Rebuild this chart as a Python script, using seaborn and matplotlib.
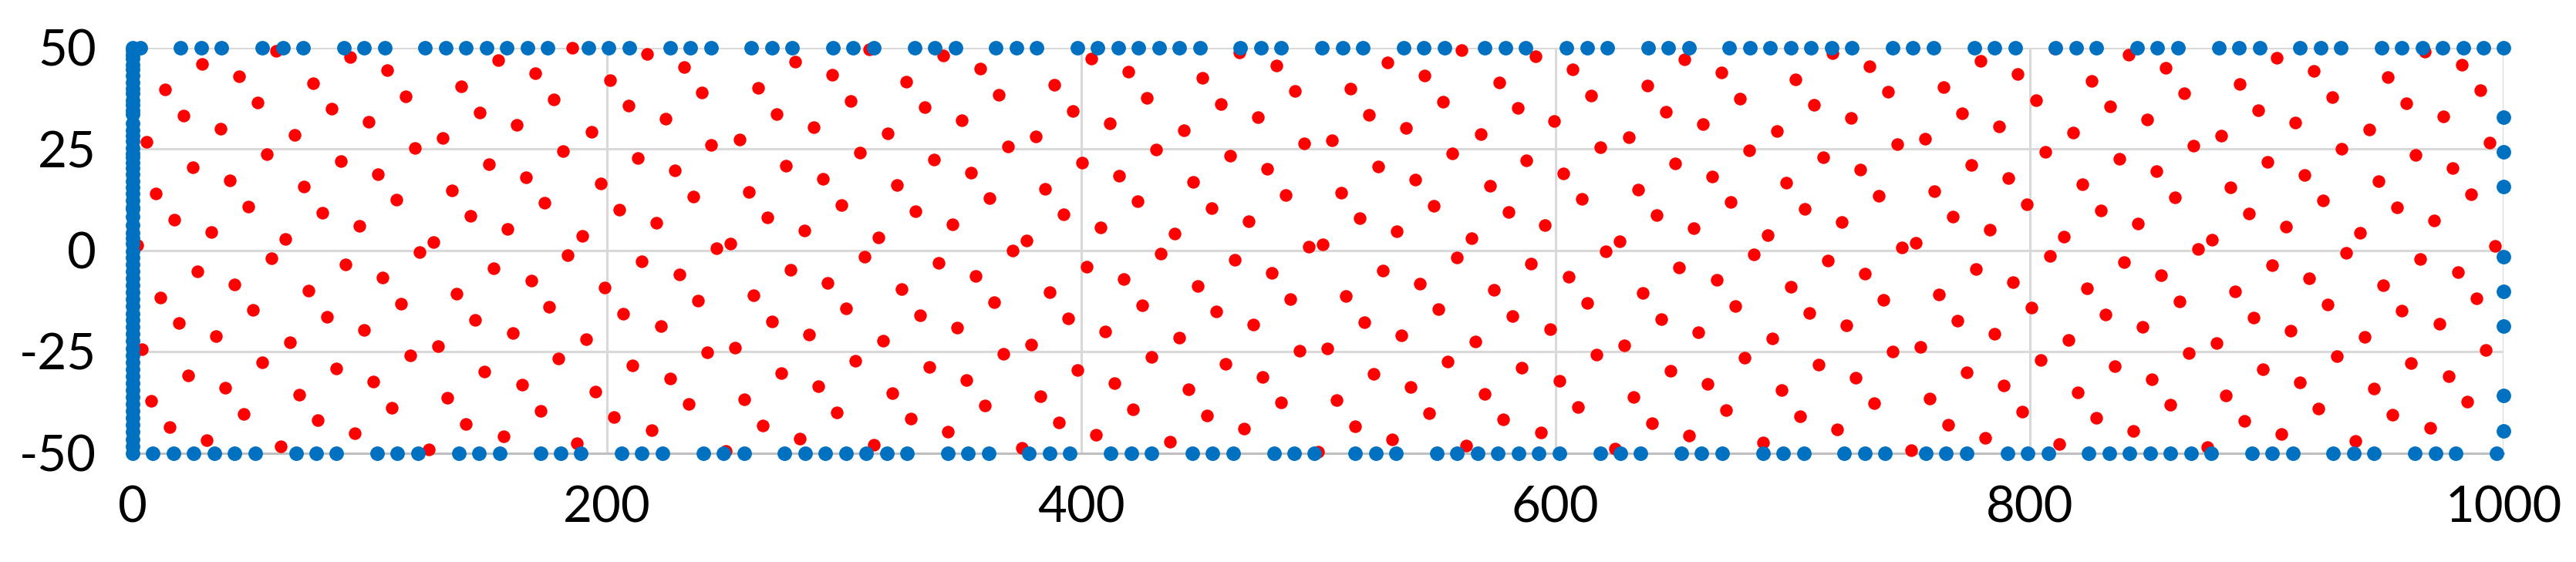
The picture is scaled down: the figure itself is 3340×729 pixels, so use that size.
import matplotlib
matplotlib.use("Agg")
import matplotlib.pyplot as plt
import seaborn as sns

# red series: x, y (points above 50 are not shown)
red_x = [
    0.0, 2.0, 3.9, 5.9, 7.8, 9.8, 11.7, 13.7, 15.6, 17.6, 19.5, 21.5, 23.4, 25.4, 27.3, 29.3,
    31.3, 33.2, 35.2, 37.1, 39.1, 41.0, 43.0, 44.9, 46.9, 48.8, 50.8, 52.7, 54.7, 56.6, 58.6, 60.5,
    62.5, 64.5, 66.4, 68.4, 70.3, 72.3, 74.2, 76.2, 78.1, 80.1, 82.0, 84.0, 85.9, 87.9, 89.8, 91.8,
    93.8, 95.7, 97.7, 99.6, 101.6, 103.5, 105.5, 107.4, 109.4, 111.3, 113.3, 115.2, 117.2, 119.1, 121.1,
    125.0, 127.0, 128.9, 130.9, 132.8, 134.8, 136.7, 138.7, 140.6, 142.6, 144.5, 146.5, 148.4, 150.4, 152.3, 154.3,
    156.3, 158.2, 160.2, 162.1, 164.1, 166.0, 168.0, 169.9, 171.9, 173.8, 175.8, 177.7, 179.7, 181.6, 183.6, 185.5,
    187.5, 189.5, 191.4, 193.4, 195.3, 197.3, 199.2, 201.2, 203.1, 205.1, 207.0, 209.0, 210.9, 212.9, 214.8, 216.8,
    218.8, 220.7, 222.7, 224.6, 226.6, 228.5, 230.5, 232.4, 234.4, 236.3, 238.3, 240.2, 242.2, 244.1, 246.1,
    250.0, 252.0, 253.9, 255.9, 257.8, 259.8, 261.7, 263.7, 265.6, 267.6, 269.5, 271.5, 273.4, 275.4, 277.3, 279.3,
    281.3, 283.2, 285.2, 287.1, 289.1, 291.0, 293.0, 294.9, 296.9, 298.8, 300.8, 302.7, 304.7, 306.6, 308.6, 310.5,
    312.5, 314.5, 316.4, 318.4, 320.3, 322.3, 324.2, 326.2, 328.1, 330.1, 332.0, 334.0, 335.9, 337.9, 339.8, 341.8,
    343.8, 345.7, 347.7, 349.6, 351.6, 353.5, 355.5, 357.4, 359.4, 361.3, 363.3, 365.2, 367.2, 369.1, 371.1,
    375.0, 377.0, 378.9, 380.9, 382.8, 384.8, 386.7, 388.7, 390.6, 392.6, 394.5, 396.5, 398.4, 400.4, 402.3, 404.3,
    406.3, 408.2, 410.2, 412.1, 414.1, 416.0, 418.0, 419.9, 421.9, 423.8, 425.8, 427.7, 429.7, 431.6, 433.6,
    437.5, 439.5, 441.4, 443.4, 445.3, 447.3, 449.2, 451.2, 453.1, 455.1, 457.0, 459.0, 460.9, 462.9, 464.8, 466.8,
    468.8, 470.7, 472.7, 474.6, 476.6, 478.5, 480.5, 482.4, 484.4, 486.3, 488.3, 490.2, 492.2, 494.1, 496.1,
    500.0, 502.0, 503.9, 505.9, 507.8, 509.8, 511.7, 513.7, 515.6, 517.6, 519.5, 521.5, 523.4, 525.4, 527.3, 529.3,
    531.3, 533.2, 535.2, 537.1, 539.1, 541.0, 543.0, 544.9, 546.9, 548.8, 550.8, 552.7, 554.7, 556.6, 558.6, 560.5,
    562.5, 564.5, 566.4, 568.4, 570.3, 572.3, 574.2, 576.2, 578.1, 580.1, 582.0, 584.0, 585.9, 587.9, 589.8, 591.8,
    593.8, 595.7, 597.7, 599.6, 601.6, 603.5, 605.5, 607.4, 609.4, 611.3, 613.3, 615.2, 617.2, 619.1, 621.1,
    625.0, 627.0, 628.9, 630.9, 632.8, 634.8, 636.7, 638.7, 640.6, 642.6, 644.5, 646.5, 648.4, 650.4, 652.3, 654.3,
    656.3, 658.2, 660.2, 662.1, 664.1, 666.0, 668.0, 669.9, 671.9, 673.8, 675.8, 677.7, 679.7, 681.6, 683.6,
    687.5, 689.5, 691.4, 693.4, 695.3, 697.3, 699.2, 701.2, 703.1, 705.1, 707.0, 709.0, 710.9, 712.9, 714.8, 716.8,
    718.8, 720.7, 722.7, 724.6, 726.6, 728.5, 730.5, 732.4, 734.4, 736.3, 738.3, 740.2, 742.2, 744.1, 746.1,
    750.0, 752.0, 753.9, 755.9, 757.8, 759.8, 761.7, 763.7, 765.6, 767.6, 769.5, 771.5, 773.4, 775.4, 777.3, 779.3,
    781.3, 783.2, 785.2, 787.1, 789.1, 791.0, 793.0, 794.9, 796.9, 798.8, 800.8, 802.7, 804.7, 806.6, 808.6, 810.5,
    812.5, 814.5, 816.4, 818.4, 820.3, 822.3, 824.2, 826.2, 828.1, 830.1, 832.0, 834.0, 835.9, 837.9, 839.8, 841.8,
    843.8, 845.7, 847.7, 849.6, 851.6, 853.5, 855.5, 857.4, 859.4, 861.3, 863.3, 865.2, 867.2, 869.1, 871.1,
    875.0, 877.0, 878.9, 880.9, 882.8, 884.8, 886.7, 888.7, 890.6, 892.6, 894.5, 896.5, 898.4, 900.4, 902.3, 904.3,
    906.3, 908.2, 910.2, 912.1, 914.1, 916.0, 918.0, 919.9, 921.9, 923.8, 925.8, 927.7, 929.7, 931.6, 933.6,
    937.5, 939.5, 941.4, 943.4, 945.3, 947.3, 949.2, 951.2, 953.1, 955.1, 957.0, 959.0, 960.9, 962.9, 964.8, 966.8,
    968.8, 970.7, 972.7, 974.6, 976.6, 978.5, 980.5, 982.4, 984.4, 986.3, 988.3, 990.2, 992.2, 994.1, 996.1,
]
red_y = [
    -50, 1.2, -24.4, 26.8, -37.2, 14, -11.6, 39.6, -43.6, 7.6, -18, 33.2, -30.8, 20.4, -5.2, 46,
    -46.8, 4.4, -21.2, 30, -34, 17.2, -8.4, 42.8, -40.4, 10.8, -14.8, 36.4, -27.6, 23.6, -2, 49.2,
    -48.4, 2.8, -22.8, 28.4, -35.6, 15.6, -10, 41.2, -42, 9.2, -16.4, 34.8, -29.2, 22, -3.6, 47.6,
    -45.2, 6, -19.6, 31.6, -32.4, 18.8, -6.8, 44.4, -38.8, 12.4, -13.2, 38, -26, 25.2, -0.4,
    -49.2, 2, -23.6, 27.6, -36.4, 14.8, -10.8, 40.4, -42.8, 8.4, -17.2, 34, -30, 21.2, -4.4, 46.8,
    -46, 5.2, -20.4, 30.8, -33.2, 18, -7.6, 43.6, -39.6, 11.6, -14, 37.2, -26.8, 24.4, -1.2, 50,
    -47.6, 3.6, -22, 29.2, -34.8, 16.4, -9.2, 42, -41.2, 10, -15.6, 35.6, -28.4, 22.8, -2.8, 48.4,
    -44.4, 6.8, -18.8, 32.4, -31.6, 19.6, -6, 45.2, -38, 13.2, -12.4, 38.8, -25.2, 26, 0.4,
    -49.6, 1.6, -24, 27.2, -36.8, 14.4, -11.2, 40, -43.2, 8, -17.6, 33.6, -30.4, 20.8, -4.8, 46.4,
    -46.4, 4.8, -20.8, 30.4, -33.6, 17.6, -8, 43.2, -40, 11.2, -14.4, 36.8, -27.2, 24, -1.6, 49.6,
    -48, 3.2, -22.4, 28.8, -35.2, 16, -9.6, 41.6, -41.6, 9.6, -16, 35.2, -28.8, 22.4, -3.2, 48,
    -44.8, 6.4, -19.2, 32, -32, 19.2, -6.4, 44.8, -38.4, 12.8, -12.8, 38.4, -25.6, 25.6, 0,
    -48.8, 2.4, -23.2, 28, -36, 15.2, -10.4, 40.8, -42.4, 8.8, -16.8, 34.4, -29.6, 21.6, -4, 47.2,
    -45.6, 5.6, -20, 31.2, -32.8, 18.4, -7.2, 44, -39.2, 12, -13.6, 37.6, -26.4, 24.8, -0.8,
    -47.2, 4, -21.6, 29.6, -34.4, 16.8, -8.8, 42.4, -40.8, 10.4, -15.2, 36, -28, 23.2, -2.4, 48.8,
    -44, 7.2, -18.4, 32.8, -31.2, 20, -5.6, 45.6, -37.6, 13.6, -12, 39.2, -24.8, 26.4, 0.8,
    -49.8, 1.4, -24.2, 27, -37, 14.2, -11.4, 39.8, -43.4, 7.8, -17.8, 33.4, -30.6, 20.6, -5, 46.2,
    -46.6, 4.6, -21, 30.2, -33.8, 17.4, -8.2, 43, -40.2, 11, -14.6, 36.6, -27.4, 23.8, -1.8, 49.4,
    -48.2, 3, -22.6, 28.6, -35.4, 15.8, -9.8, 41.4, -41.8, 9.4, -16.2, 35, -29, 22.2, -3.4, 47.8,
    -45, 6.2, -19.4, 31.8, -32.2, 19, -6.6, 44.6, -38.6, 12.6, -13, 38.2, -25.8, 25.4, -0.2,
    -49, 2.2, -23.4, 27.8, -36.2, 15, -10.6, 40.6, -42.6, 8.6, -17, 34.2, -29.8, 21.4, -4.2, 47,
    -45.8, 5.4, -20.2, 31, -33, 18.2, -7.4, 43.8, -39.4, 11.8, -13.8, 37.4, -26.6, 24.6, -1,
    -47.4, 3.8, -21.8, 29.4, -34.6, 16.6, -9, 42.2, -41, 10.2, -15.4, 35.8, -28.2, 23, -2.6, 48.6,
    -44.2, 7, -18.6, 32.6, -31.4, 19.8, -5.8, 45.4, -37.8, 13.4, -12.2, 39, -25, 26.2, 0.6,
    -49.4, 1.8, -23.8, 27.4, -36.6, 14.6, -11, 40.2, -43, 8.2, -17.4, 33.8, -30.2, 21, -4.6, 46.6,
    -46.2, 5, -20.6, 30.6, -33.4, 17.8, -7.8, 43.4, -39.8, 11.4, -14.2, 37, -27, 24.2, -1.4, 49.8,
    -47.8, 3.4, -22.2, 29, -35, 16.2, -9.4, 41.8, -41.4, 9.8, -15.8, 35.4, -28.6, 22.6, -3, 48.2,
    -44.6, 6.6, -19, 32.2, -31.8, 19.4, -6.2, 45, -38.2, 13, -12.6, 38.6, -25.4, 25.8, 0.2,
    -48.6, 2.6, -23, 28.2, -35.8, 15.4, -10.2, 41, -42.2, 9, -16.6, 34.6, -29.4, 21.8, -3.8, 47.4,
    -45.4, 5.8, -19.8, 31.4, -32.6, 18.6, -7, 44.2, -39, 12.2, -13.4, 37.8, -26.2, 25, -0.6,
    -47, 4.2, -21.4, 29.8, -34.2, 17, -8.6, 42.6, -40.6, 10.6, -15, 36.2, -27.8, 23.4, -2.2, 49,
    -43.8, 7.4, -18.2, 33, -31, 20.2, -5.4, 45.8, -37.4, 13.8, -11.8, 39.4, -24.6, 26.6, 1,
]

# blue series, drawn along the edges of the box
top_x = [
    3.1, 20.3, 28.9, 37.5, 54.7, 63.3, 71.9, 89.1, 97.7, 106.3, 123.4, 132.0, 140.6, 149.2, 157.8, 166.4,
    175.0, 192.2, 200.8, 209.4, 226.6, 235.2, 243.8, 260.9, 269.5, 278.1, 295.3, 303.9, 312.5, 329.7, 338.3,
    346.9, 364.1, 372.7, 381.3, 398.4, 407.0, 415.6, 424.2, 432.8, 441.4, 450.0, 467.2, 475.8, 484.4, 501.6,
    510.2, 518.8, 535.9, 544.5, 553.1, 570.3, 578.9, 587.5, 604.7, 613.3, 621.9, 639.1, 647.7, 656.3, 673.4,
    682.0, 690.6, 699.2, 707.8, 716.4, 725.0, 742.2, 750.8, 759.4, 776.6, 785.2, 793.8, 810.9, 819.5, 828.1,
    845.3, 853.9, 862.5, 879.7, 888.3, 896.9, 914.1, 922.7, 931.3, 948.4, 957.0, 965.6, 974.2, 982.8, 991.4, 1000.0,
]
bottom_x = [
    8.6, 17.2, 25.8, 34.4, 43.0, 51.6, 68.8, 77.3, 85.9, 103.1, 111.7, 120.3, 137.5, 146.1, 154.7, 171.9,
    180.5, 189.1, 206.3, 214.8, 223.4, 240.6, 249.2, 257.8, 275.0, 283.6, 292.2, 300.8, 309.4, 318.0, 326.6,
    343.8, 352.3, 360.9, 378.1, 386.7, 395.3, 412.5, 421.1, 429.7, 446.9, 455.5, 464.1, 481.3, 489.8, 498.4,
    515.6, 524.2, 532.8, 550.0, 558.6, 567.2, 575.8, 584.4, 593.0, 601.6, 618.8, 627.3, 635.9, 653.1, 661.7,
    670.3, 687.5, 696.1, 704.7, 721.9, 730.5, 739.1, 756.3, 764.8, 773.4, 790.6, 799.2, 807.8, 825.0, 833.6,
    842.2, 850.8, 859.4, 868.0, 876.6, 893.8, 902.3, 910.9, 928.1, 936.7, 945.3, 962.5, 971.1, 979.7, 996.9,
]
right_y = [32.8, 24.2, 15.6, -1.6, -10.2, -18.8, -35.9, -44.5]
left_y = [
    50, 49.4, 48.2, 47.2, 45.8, 44.5, 43.0, 41.4, 39.9, 38.6, 37.0, 35.9, 34.6, 33.5, 31.3, 29.5,
    28.2, 26.9, 25.1, 23.9, 22.9, 21.5, 20.2, 18.8, 17.1, 15.5, 14.0, 12.3, 10.5, 10.2, 8.3, 6.1,
    4.3, 3.0, 1.6, -0.2, -1.9, -3.5, -5.3, -6.9, -8.6, -10.4, -12.1, -13.8, -15.6, -17.2, -18.9, -20.7,
    -22.4, -24.2, -25.9, -27.6, -29.3, -31.1, -32.8, -34.5, -36.2, -37.9, -39.7, -41.4, -43.1, -44.8,
    -46.6, -48.3, -50,
]

y_ticks = [-50, -25, 0, 25, 50]
y_labels = ["-50", "-25", "0", "25", "50"]
x_ticks = [0, 200, 400, 600, 800, 1000]
x_labels = ["0", "200", "400", "600", "800", "1000"]


def plot_chart():
    sns.set_style("white")
    plt.rcParams['font.family'] = ['Lato', 'DejaVu Sans']

    fig = plt.figure(figsize=(16.705, 3.645), dpi=200)
    ax = fig.add_axes([172 / 3341, 1 - 587.5 / 729, 3074.5 / 3341, 526 / 729])

    sns.scatterplot(x=red_x, y=red_y, color="#FF0000", s=35, linewidth=0,
                    ax=ax, zorder=3, clip_on=False)

    blue_x = top_x + [1000] * len(right_y) + bottom_x + [0] * len(left_y)
    blue_y = [50] * len(top_x) + right_y + [-50] * len(bottom_x) + left_y
    sns.scatterplot(x=blue_x, y=blue_y, color="#0070C0", s=46, linewidth=0,
                    ax=ax, zorder=4, clip_on=False)

    ax.set_xlim(0, 1000)
    ax.set_ylim(-50, 50)
    ax.set_xticks(x_ticks)
    ax.set_xticklabels(x_labels)
    ax.set_yticks(y_ticks)
    ax.set_yticklabels(y_labels)
    ax.grid(True, color="#D9D9D9", linewidth=1.1)
    ax.set_axisbelow(True)
    for side in ["top", "right", "left"]:
        ax.spines[side].set_visible(False)
    ax.spines["bottom"].set_color("#BFBFBF")
    ax.spines["bottom"].set_linewidth(1.1)
    ax.tick_params(axis="both", length=0, labelsize=23.5, colors="black")
    ax.tick_params(axis="x", pad=15)
    ax.tick_params(axis="y", pad=17)
    ax.set_xlabel("")
    ax.set_ylabel("")

    fig.savefig("out.png", dpi=200)


if __name__ == "__main__":
    plot_chart()
